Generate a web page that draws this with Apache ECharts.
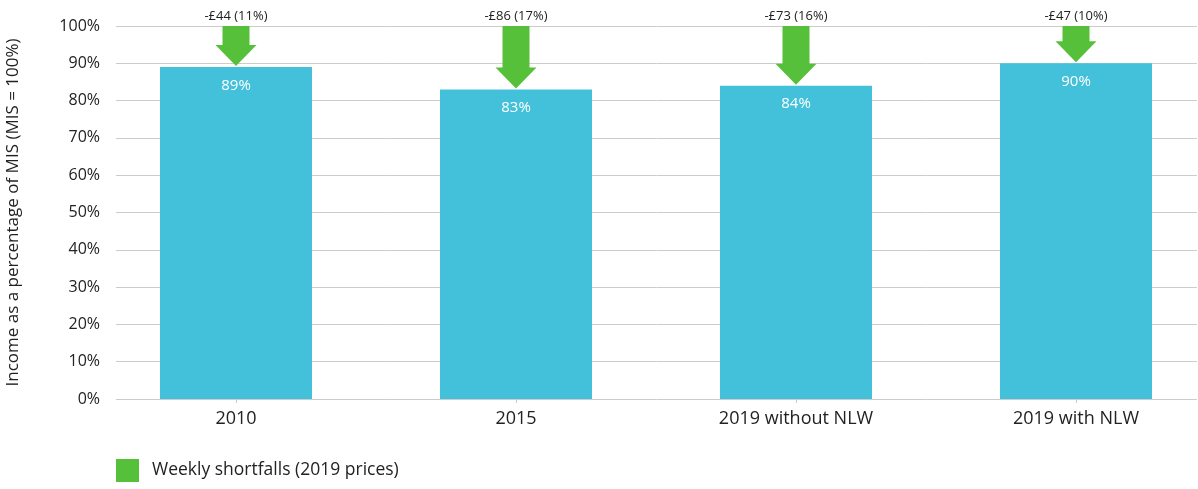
<!DOCTYPE html>
<html>
<head>
<meta charset="utf-8">
<script src="https://cdn.jsdelivr.net/npm/echarts@6/dist/echarts.min.js"></script>
<style>
  html, body { margin: 0; padding: 0; background: #fff; }
  #chart { width: 1198px; height: 489px; }
</style>
</head>
<body>
<div id="chart"></div>
<script>
// Income relative to the Minimum Income Standard, with weekly shortfalls
const categories = ['2010', '2015', '2019 without NLW', '2019 with NLW'];
const incomePct = [89, 83, 84, 90];
const shortfallPounds = [44, 86, 73, 47];
const shortfallPct = [11, 17, 16, 10];
const yTicks = [0, 10, 20, 30, 40, 50, 60, 70, 80, 90, 100];

const FONT = '"Open Sans", Lato, sans-serif';
const BAR_COLOR = '#44c1da';
const ARROW_COLOR = '#57c03b';
const TEXT_COLOR = '#222';

const chart = echarts.init(document.getElementById('chart'));

const arrowData = incomePct.map((v, i) => [i, v, shortfallPounds[i], shortfallPct[i]]);

function renderArrow(params, api) {
  const i = api.value(0);
  const v = api.value(1);
  const top = api.coord([i, 100]);
  const tip = api.coord([i, v]);
  const cx = top[0];
  const shaftHalf = 13.5;
  const headHalf = 20.5;
  const headH = 21;
  const y0 = top[1];
  const y1 = tip[1] - 1;
  const yHead = y1 - headH;
  return {
    type: 'group',
    children: [
      {
        type: 'polygon',
        shape: {
          points: [
            [cx - shaftHalf, y0], [cx + shaftHalf, y0], [cx + shaftHalf, yHead],
            [cx + headHalf, yHead], [cx, y1], [cx - headHalf, yHead], [cx - shaftHalf, yHead]
          ]
        },
        style: { fill: ARROW_COLOR }
      },
      {
        type: 'text',
        x: cx,
        y: y0 - 10,
        style: {
          text: '-£' + api.value(2) + ' (' + api.value(3) + '%)',
          fill: TEXT_COLOR,
          font: '13px ' + FONT,
          align: 'center',
          verticalAlign: 'middle'
        }
      }
    ]
  };
}

chart.setOption({
  animation: false,
  textStyle: { fontFamily: FONT },
  grid: [
    { left: 116, width: 1081, top: 26, bottom: 90, outerBoundsMode: 'none' },
    { left: 96, width: 1120, top: 26, bottom: 90, outerBoundsMode: 'none' }
  ],
  legend: {
    left: 116,
    bottom: 7,
    padding: 0,
    itemWidth: 23,
    itemHeight: 23,
    icon: 'rect',
    textStyle: { fontSize: 17.5, color: TEXT_COLOR, fontFamily: FONT, padding: [0, 0, 0, 8] },
    data: ['Weekly shortfalls (2019 prices)']
  },
  xAxis: [
    {
      gridIndex: 0, type: 'value', min: 0, max: 1, show: false
    },
    {
      gridIndex: 1,
      type: 'category',
      data: categories,
      axisLine: { show: false },
      axisTick: { show: true, alignWithLabel: true, length: 4, lineStyle: { color: '#cccccc' } },
      axisLabel: { fontSize: 18, color: TEXT_COLOR, margin: 11, fontFamily: FONT }
    }
  ],
  yAxis: [
    {
      gridIndex: 0,
      type: 'value',
      min: 0,
      max: 100,
      interval: 10,
      name: 'Income as a percentage of MIS (MIS = 100%)',
      nameLocation: 'middle',
      nameGap: 94,
      nameTextStyle: { fontSize: 17, color: TEXT_COLOR, fontFamily: FONT },
      axisLine: { show: false },
      axisTick: { show: false },
      axisLabel: {
        fontSize: 16, color: TEXT_COLOR, margin: 16, fontFamily: FONT,
        formatter: v => (yTicks.indexOf(v) >= 0 ? v + '%' : '')
      },
      splitLine: { show: true, lineStyle: { color: '#cccccc', width: 1 } }
    },
    {
      gridIndex: 1,
      type: 'value',
      min: 0,
      max: 100,
      interval: 10,
      show: false,
      splitLine: { show: false }
    }
  ],
  series: [
    {
      name: 'Income',
      type: 'bar',
      xAxisIndex: 1,
      yAxisIndex: 1,
      data: incomePct,
      barWidth: 152,
      itemStyle: { color: BAR_COLOR },
      label: {
        show: true,
        position: 'insideTop',
        distance: 11,
        color: '#fff',
        fontSize: 15,
        fontFamily: FONT,
        formatter: p => p.value + '%'
      },
      z: 2
    },
    {
      name: 'Weekly shortfalls (2019 prices)',
      type: 'custom',
      xAxisIndex: 1,
      yAxisIndex: 1,
      data: arrowData,
      itemStyle: { color: ARROW_COLOR },
      renderItem: renderArrow,
      encode: { x: 0, y: 1 },
      clip: false,
      z: 3
    }
  ]
});
</script>
</body>
</html>
